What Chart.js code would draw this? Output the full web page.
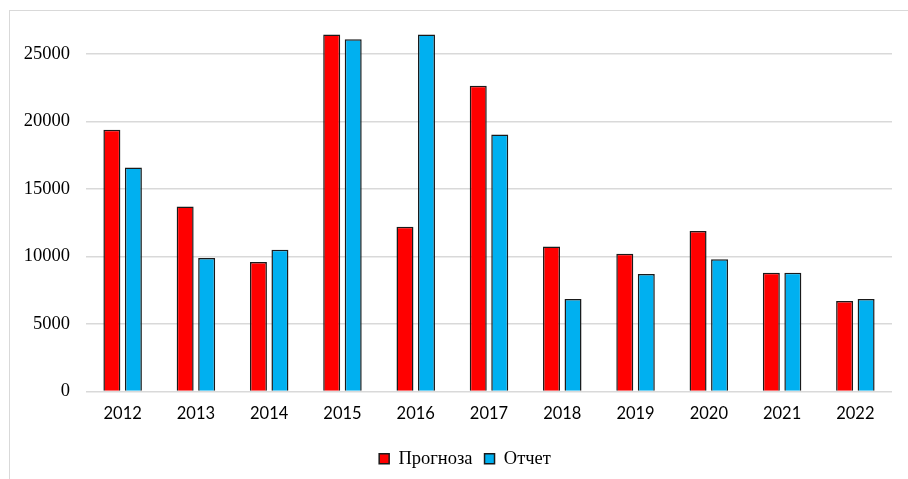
<!DOCTYPE html>
<html>
<head>
<meta charset="utf-8">
<script src="https://cdn.jsdelivr.net/npm/chart.js"></script>
<style>
    html, body {
        margin: 0;
        padding: 0;
        background: #ffffff;
    }
    #frame {
        position: absolute;
        left: 9px;
        top: 10px;
        width: 910px;
        height: 480px;
        border: 1px solid #d9d9d9;
        box-sizing: border-box;
    }
    #wrap {
        position: absolute;
        left: 0;
        top: 0;
        width: 908px;
        height: 479px;
    }
</style>
</head>
<body>
<div id="frame"></div>
<div id="wrap"><canvas id="chart"></canvas></div>
<script>
const years = ['2012', '2013', '2014', '2015', '2016', '2017', '2018', '2019', '2020', '2021', '2022']
const forecast = [19400, 13700, 9600, 26450, 12200, 22650, 10750, 10200, 11900, 8800, 6700]
const report = [16600, 9900, 10500, 26100, 26450, 19050, 6850, 8700, 9800, 8800, 6850]
const yTicks = [0, 5000, 10000, 15000, 20000, 25000]

const serif = '"Liberation Serif", "Times New Roman", serif'

// the original legend sits a bit right of the canvas centre
const legendShift = {
    id: 'legendShift',
    afterLayout(chart) {
        chart.legend.left += 14
        chart.legend.right += 14
    }
}

new Chart(
    document.getElementById('chart'),
    {
        type: 'bar',

        data: {
            labels: years,
            datasets: [
                {
                    label: 'Прогноза',
                    data: forecast,
                    backgroundColor: '#ff0000',
                    borderColor: '#1a1a1a',
                    borderWidth: 1.5,
                    categoryPercentage: 0.587,
                    barPercentage: 0.79
                },
                {
                    label: 'Отчет',
                    data: report,
                    backgroundColor: '#00b0f0',
                    borderColor: '#1a1a1a',
                    borderWidth: 1.5,
                    categoryPercentage: 0.587,
                    barPercentage: 0.79
                }
            ]
        },

        plugins: [legendShift],

        options: {
            responsive: true,
            maintainAspectRatio: false,
            animation: false,
            layout: {
                padding: { left: 10, right: 16, top: 26, bottom: 1 }
            },
            plugins: {
                tooltip: { enabled: false },
                legend: {
                    position: 'bottom',
                    labels: {
                        boxWidth: 10,
                        boxHeight: 10,
                        padding: 12,
                        color: '#000000',
                        font: { family: serif, size: 18.5 }
                    }
                }
            },
            scales: {
                x: {
                    grid: { display: false, drawTicks: false },
                    border: { display: false },
                    ticks: {
                        color: '#000000',
                        padding: 12,
                        font: { family: 'Lato, "Open Sans", sans-serif', size: 16.5 }
                    },
                    afterFit: (scale) => { scale.height = 46 }
                },
                y: {
                    min: 0,
                    max: 27000,
                    border: { display: false },
                    grid: {
                        color: '#d9d9d9',
                        lineWidth: 1.5,
                        drawTicks: false
                    },
                    ticks: {
                        color: '#000000',
                        padding: 16,
                        font: { family: serif, size: 18.5 },
                        callback: (v) => String(v)
                    },
                    afterBuildTicks: (scale) => {
                        scale.ticks = yTicks.map(v => ({ value: v }))
                    },
                    afterFit: (scale) => { scale.width = 76 }
                }
            }
        }
    }
)
</script>
</body>
</html>
